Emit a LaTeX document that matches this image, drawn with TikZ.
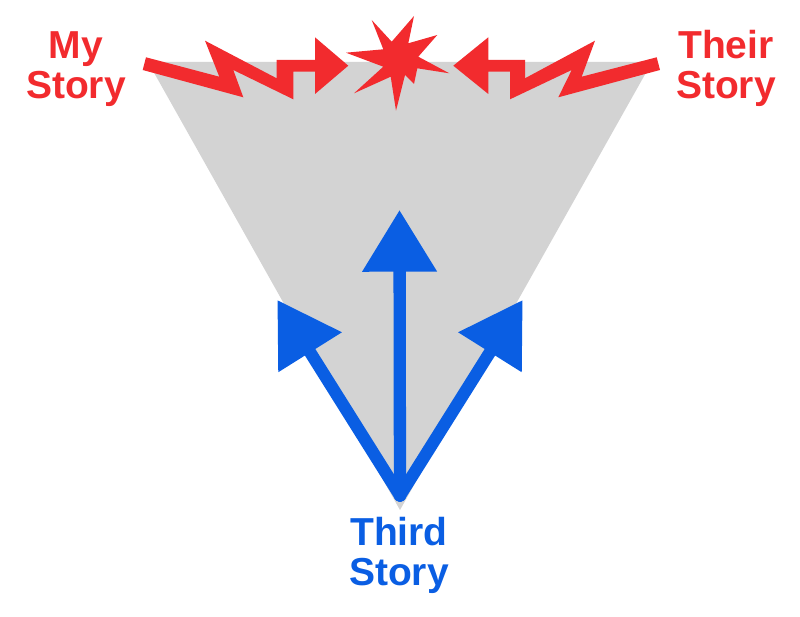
\documentclass[tikz,border=0pt]{standalone}
\usepackage{fontspec}
\setmainfont{Liberation Sans}
\usetikzlibrary{arrows.meta}
\definecolor{storyred}{RGB}{242,43,46}
\definecolor{storyblue}{RGB}{10,94,227}
\definecolor{funnelgray}{RGB}{211,211,211}
\tikzset{
  redshape/.style={fill=storyred, draw=none},
  label/.style={font=\bfseries\fontsize{39}{39.5}\selectfont, align=center, inner sep=0pt},
  redlabel/.style={label, text=storyred},
  bluelabel/.style={label, text=storyblue},
  bluearrow/.style={draw=storyblue, line width=12.3pt, line cap=round,
    -{Triangle[length=61.7pt, width=71.7pt]}},
}
\begin{document}
\begin{tikzpicture}[x=1pt, y=-1pt]
\useasboundingbox (0,0) rectangle (800,617);
% funnel
\fill[funnelgray] (148,62) -- (652,62) -- (400,510) -- cycle;
% left bolt
\fill[redshape] (146,57.3) -- (219.3,76.7) -- (205,40.7) -- (276.7,78.3) -- (276.7,60)
  -- (315,60) -- (315,37.3) -- (348.3,65.7) -- (315,94) -- (315,71.7) -- (293.3,71.7)
  -- (293.3,99.3) -- (233.3,70) -- (243.3,97.3) -- (142.7,70) -- cycle;
% right bolt
\fill[redshape] (656.7,57.3) -- (581.7,76.7) -- (595,40.7) -- (525,78.3) -- (525,60)
  -- (488.3,60) -- (488.3,37.3) -- (453.3,65.7) -- (488.3,94) -- (488.3,71.7) -- (510,71.7)
  -- (510,99.3) -- (571.7,70) -- (558.3,97.3) -- (660,70) -- cycle;
% starburst
\fill[redshape] (371.7,20) -- (391.7,41.7) -- (414,16) -- (408.3,43.3) -- (437.3,35)
  -- (418.3,56.7) -- (449.3,73.3) -- (417.3,68.3) -- (414,84) -- (405,75) -- (396,110.7)
  -- (390.7,76.7) -- (354,93.3) -- (383.3,66.7) -- (346,52.7) -- (383.3,49.3) -- cycle;
% blue arrows
\coordinate (apex) at (400,495.5);
\coordinate (tipL) at (277.3,300);
\coordinate (tipC) at (399.5,210);
\coordinate (tipR) at (522.7,300);
\draw[bluearrow] (apex) -- (tipL);
\draw[bluearrow] (apex) -- (tipR);
\draw[bluearrow] (apex) -- (tipC);
% labels (base = baseline of the last line)
\node[redlabel, anchor=base] (my) at (76,98.5) {My\\Story};
\node[redlabel, anchor=base] (their) at (726,98.5) {Their\\Story};
\node[bluelabel, anchor=base] (third) at (399,585) {Third\\Story};
\end{tikzpicture}
\end{document}
